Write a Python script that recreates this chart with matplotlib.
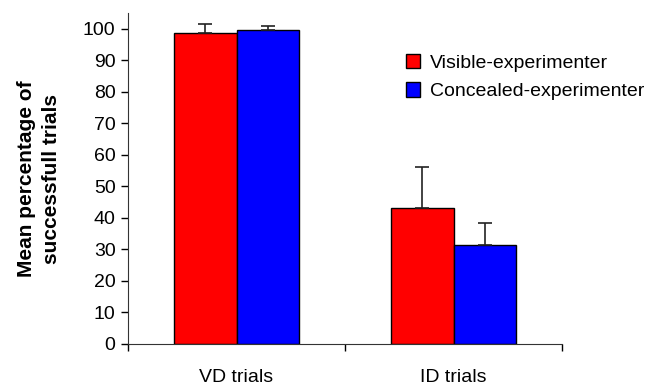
import numpy as np
import matplotlib.pyplot as plt

# data
categories = ['VD trials', 'ID trials']
series = ['Visible-experimenter', 'Concealed-experimenter']
visible = [98.7, 43.1]
visible_err = [2.8, 13.2]
concealed = [99.6, 31.5]
concealed_err = [1.4, 7.0]
colors = ['#ff0000', '#0000ff']

plt.rcParams['font.family'] = ['Liberation Sans', 'DejaVu Sans']

fig = plt.figure(figsize=(6.64, 3.87), dpi=100)
ax = fig.add_axes([128/664, 43/387, 434/664, 331/387])

x = np.arange(len(categories))
w = 0.286
err_kw = dict(ecolor='#222222', elinewidth=1.2, capsize=5, capthick=1.2)
ax.bar(x - w/2, visible, w, color=colors[0], edgecolor='black', linewidth=1,
       yerr=[np.zeros(2), visible_err], error_kw=err_kw, label=series[0])
ax.bar(x + w/2, concealed, w, color=colors[1], edgecolor='black', linewidth=1,
       yerr=[np.zeros(2), concealed_err], error_kw=err_kw, label=series[1])

ax.set_xlim(-0.5, 1.5)
ax.set_ylim(0, 105)
ax.set_yticks(range(0, 101, 10))
ax.tick_params(axis='y', labelsize=14, length=5, width=1, pad=4)

# ticks on the category boundaries, labels in the middle
ax.set_xticks([-0.5, 0.5, 1.5])
ax.set_xticklabels([])
ax.set_xticks(x, minor=True)
ax.set_xticklabels(categories, minor=True)
ax.tick_params(axis='x', which='major', length=5, width=1)
ax.tick_params(axis='x', which='minor', length=0, labelsize=14, pad=18)

for s in ['top', 'right']:
    ax.spines[s].set_visible(False)
for s in ['left', 'bottom']:
    ax.spines[s].set_color('#333333')

ax.set_ylabel('Mean percentage of\nsuccessfull trials', fontsize=15,
              fontweight='bold', labelpad=16, linespacing=1.35)

leg = ax.legend(loc='upper left', bbox_to_anchor=(0.6, 0.93), frameon=False,
                fontsize=14, handlelength=0.75, handleheight=0.75,
                handletextpad=0.5, labelspacing=0.55)

plt.savefig('out.png', dpi=100)
